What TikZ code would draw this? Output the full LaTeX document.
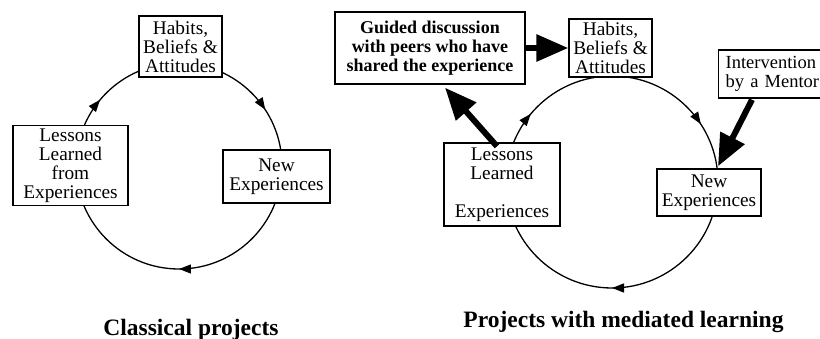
\documentclass[tikz,border=0pt]{standalone}
\usepackage{fontspec}
\setmainfont{Liberation Serif}
\usetikzlibrary{arrows.meta}
\usetikzlibrary{decorations.markings}

\begin{document}
\begin{tikzpicture}[x=1pt,y=1pt,
		box/.style={draw,line width=1.3pt,fill=white,inner sep=0pt,align=center,font=\fontsize{19.3}{19}\selectfont},
		cyc/.style={line width=1.3pt,postaction={decorate},decoration={markings,
			mark=at position .25 with {\arrow{Triangle[length=12pt,width=9pt]}},
			mark=at position .611 with {\arrow{Triangle[length=12pt,width=9pt]}},
			mark=at position .908 with {\arrow{Triangle[length=12pt,width=9pt]}}}},
		bigarrow/.style={line width=6pt,-{Triangle[length=32pt,width=26pt]}},
		caption/.style={font=\fontsize{23.5}{25}\selectfont\bfseries,anchor=base}]
		\useasboundingbox (0,0) rectangle (820,-339);
		%% classical cycle
		\coordinate (cL) at (179,-166);
		\draw[cyc] ([shift={(0:103)}]cL) arc[start angle=0, end angle=-360, radius=103];
		\node[box, minimum width=83pt, minimum height=61pt] (habL) at (180.5,-46.5) {Habits,\\Beliefs \&\\Attitudes};
		\node[box, minimum width=115pt, minimum height=80pt] (lesL) at (70.5,-165.5) {Lessons\\Learned\\from\\Experiences};
		\node[box, minimum width=107pt, minimum height=53pt] (newL) at (276.5,-176.5) {New\\Experiences};
		\node[caption] (capL) at (191,-335) {Classical projects};
		%% mediated cycle
		\coordinate (cR) at (612,-182);
		\draw[cyc] ([shift={(0:106)}]cR) arc[start angle=0, end angle=-360, radius=106];
		\node[box, minimum width=190pt, minimum height=72pt, font=\fontsize{18}{19}\selectfont\bfseries] (guide) at (430,-48) {Guided discussion\\with peers who have\\shared the experience};
		\node[box, minimum width=83pt, minimum height=58pt] (habR) at (610.5,-48) {Habits,\\Beliefs \&\\Attitudes};
		\node[box, anchor=west, text width=104pt, inner xsep=7pt, minimum height=48pt, align=left, font=\fontsize{18.5}{19}\selectfont] (mentor) at (718,-74) {Intervention\\by a Mentor};
		\node[box, minimum width=116pt, minimum height=83pt] (lesR) at (502,-184.5) {Lessons\\Learned\\\\Experiences};
		\node[box, minimum width=104pt, minimum height=47pt] (newR) at (709,-192.5) {New\\Experiences};
		\draw[bigarrow] (guide) -- (habR);
		\draw[bigarrow] ([xshift=-5pt,yshift=-4pt]lesR.north) -- ([xshift=15pt,yshift=-3pt]guide.south);
		\draw[bigarrow] ([xshift=34pt,yshift=-1pt]mentor.south west) -- ([xshift=9pt,yshift=2pt]newR.north);
		\node[caption] (capR) at (623.5,-327) {Projects with mediated learning};
	\end{tikzpicture}
\end{document}
